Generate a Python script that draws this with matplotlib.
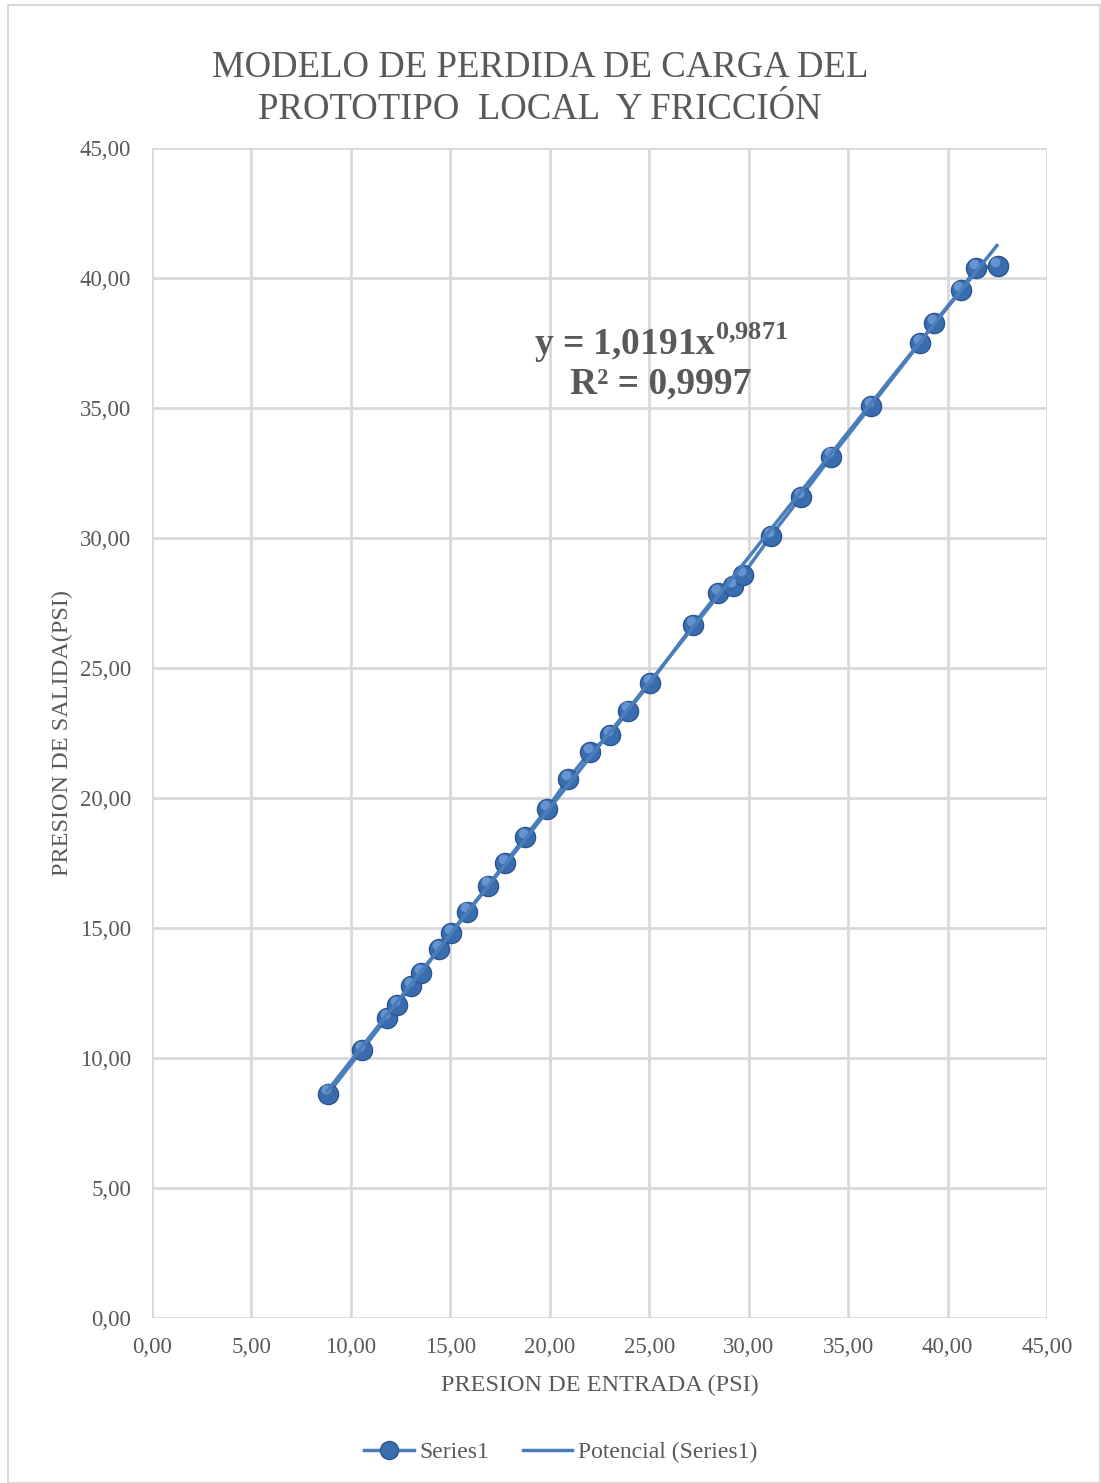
import numpy as np
import matplotlib
matplotlib.use("Agg")
import matplotlib.pyplot as plt
from matplotlib.lines import Line2D
from matplotlib.patches import Rectangle

plt.rcParams['font.family'] = ['Liberation Serif', 'DejaVu Serif']
plt.rcParams['mathtext.fontset'] = 'custom'
plt.rcParams['mathtext.rm'] = 'Liberation Serif'
plt.rcParams['mathtext.bf'] = 'Liberation Serif:bold'

# presion de entrada / salida (PSI)
entrada = [8.85, 10.56, 11.81, 12.32, 13.02, 13.52, 14.43, 15.03, 15.84, 16.89,
           17.75, 18.75, 19.86, 20.92, 22.02, 23.03, 23.93, 25.04, 27.20, 28.46,
           29.21, 29.71, 31.12, 32.63, 34.14, 36.15, 38.61, 39.32, 40.67, 41.43, 42.53]
salida = [8.62, 10.31, 11.54, 12.04, 12.77, 13.27, 14.19, 14.81, 15.62, 16.62,
          17.50, 18.50, 19.58, 20.73, 21.77, 22.42, 23.35, 24.42, 26.65, 27.88,
          28.15, 28.58, 30.08, 31.58, 33.12, 35.08, 37.50, 38.27, 39.54, 40.38, 40.46]
coef_a = 1.0191
coef_b = 0.9871
ticks = [0, 5, 10, 15, 20, 25, 30, 35, 40, 45]
tick_labels = ['0,00', '5,00', '10,00', '15,00', '20,00', '25,00', '30,00', '35,00', '40,00', '45,00']

blue = '#4a7ebb'
gray = '#595959'

fig = plt.figure(figsize=(11.01, 14.83), dpi=100)
# borde del grafico
fig.patches.append(Rectangle((8/1101, 0), 1 - 9/1101, 1 - 5/1483, transform=fig.transFigure,
                             fill=False, edgecolor='#d9d9d9', linewidth=1.5))

ax = fig.add_axes([152/1101, 165/1483, 895/1101, 1170/1483])
ax.set_xlim(0, 45)
ax.set_ylim(0, 45)
ax.set_xticks(ticks)
ax.set_yticks(ticks)
ax.set_xticklabels(tick_labels)
ax.set_yticklabels(tick_labels)
ax.tick_params(length=0, labelsize=16.5, labelcolor=gray, pad=14)
ax.tick_params(axis='y', pad=15)
for s in ax.spines.values():
    s.set_visible(False)
ax.grid(True, color='#d9d9d9', linewidth=2)
ax.set_axisbelow(True)

# serie con marcadores (esferas)
x = np.array(entrada)
y = np.array(salida)
ax.plot(x, y, color=blue, linewidth=2.5, zorder=3)
ax.plot(x, y, linestyle='none', marker='o', markersize=14.5, markerfacecolor='#3a6db0',
        markeredgecolor='#2a5590', markeredgewidth=1, zorder=4)
ax.plot(x - 0.12, y + 0.17, linestyle='none', marker='o', markersize=7,
        markerfacecolor='#6f9cd6', markeredgecolor='none', alpha=0.85, zorder=5)

# linea de tendencia potencial
xt = np.linspace(x.min() - 0.05, x.max() - 0.05, 200)
yt = coef_a * xt ** coef_b
ax.plot(xt, yt, color=blue, linewidth=2.5, zorder=6)

ax.text(25.6, 36.8, 'y = 1,0191x$^{\\mathbf{0{,}9871}}$\nR² = 0,9997', fontsize=27,
        fontweight='bold', color=gray, ha='center', va='center', linespacing=1.05, zorder=7)

ax.set_xlabel('PRESION DE ENTRADA (PSI)', fontsize=17.5, color=gray, labelpad=12)
ax.set_ylabel('PRESION DE SALIDA(PSI)', fontsize=17.5, color=gray, labelpad=5)

fig.text(540/1101, 1 - 89/1483, 'MODELO DE PERDIDA DE CARGA DEL\nPROTOTIPO  LOCAL  Y FRICCIÓN',
         fontsize=26.5, color=gray, ha='center', va='center', linespacing=1.3)

handles = [Line2D([], [], color=blue, linewidth=2.5, marker='o', markersize=13,
                  markerfacecolor='#3a6db0', markeredgecolor='#2a5590'),
           Line2D([], [], color=blue, linewidth=2.5)]
fig.legend(handles, ['Series1', 'Potencial (Series1)'], loc='center',
           bbox_to_anchor=(561/1101, 1 - 1452/1483), ncol=2, frameon=False,
           fontsize=17, labelcolor=gray, handlelength=2.1, columnspacing=1.4, handletextpad=0.25)

fig.savefig('out.png', dpi=100)
